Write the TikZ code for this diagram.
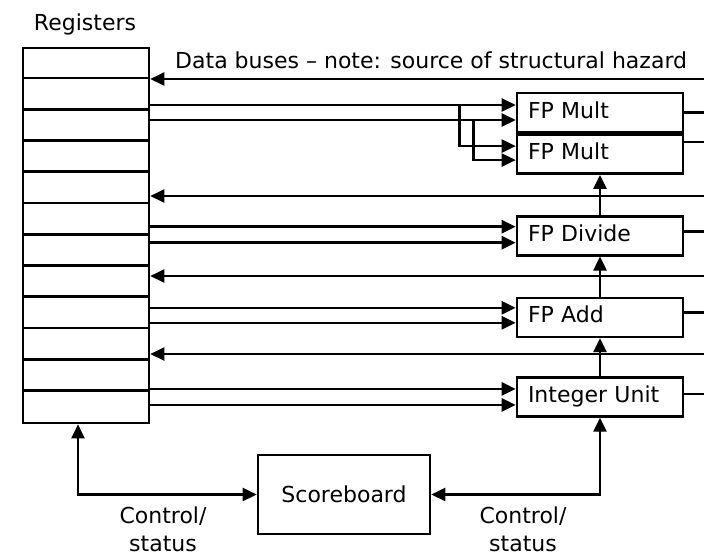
\documentclass[tikz,border=0pt]{standalone}
\usepackage{fontspec}
\setmainfont{DejaVu Sans}
\usetikzlibrary{arrows.meta,positioning}

\tikzset{
  unit/.style={draw,line width=2.6pt,text width=144pt,inner xsep=11pt,inner ysep=0pt,
    align=left,minimum height=39pt,text height=16pt,text depth=5pt},
  bus/.style={line width=2.5pt},
  lbl/.style={inner sep=0pt,align=center}
}

\begin{document}
\begin{tikzpicture}[x=1pt,y=-1pt,>={Triangle[length=14pt,width=13pt]},
  font=\fontsize{22}{28}\selectfont]
\useasboundingbox (0,0) rectangle (704,555);

% register file, 12 rows
\node[draw,line width=2.6pt,minimum width=126pt,minimum height=375pt,inner sep=0pt] (rf) at (86,235.5) {};
\foreach \i in {1,...,11}
  \draw[line width=2.6pt] ([yshift=-\i*31.25pt]rf.north west) -- ([yshift=-\i*31.25pt]rf.north east);
\node[lbl] (regs) at (85,24) {Registers};
\node[lbl,anchor=west] (buses) at (175,60) {Data buses – note: source of structural hazard};

% functional units
\node[unit] (mulA) at (600,112.5) {FP Mult};
\node[unit,below=0pt of mulA] (mulB) {FP Mult};
\node[unit,below=40pt of mulB] (div) {FP Divide};
\node[unit,below=40pt of div] (add) {FP Add};
\node[unit,below=38pt of add] (int) {Integer Unit};
\node[draw,line width=2.6pt,minimum width=172pt,minimum height=79pt] (sb) at (344,494.5) {Scoreboard};

% result buses back to the registers
\coordinate (wb1) at (704,79);
\coordinate (wb2) at (704,196);
\coordinate (wb3) at (704,276);
\coordinate (wb4) at (704,354);
\foreach \w in {wb1,wb2,wb3,wb4}
  \draw[bus,->] (\w) -- (\w -| rf.east);
\draw[bus] (mulA.east) -- (mulA.east -| wb1);
\draw[bus] ([yshift=12pt]mulB.east) -- ([yshift=12pt]mulB.east -| wb1);
\draw[bus] ([yshift=4pt]div.east) -- ([yshift=4pt]div.east -| wb1);
\draw[bus] ([yshift=5pt]add.east) -- ([yshift=5pt]add.east -| wb1);
\draw[bus] ([yshift=3pt]int.east) -- ([yshift=3pt]int.east -| wb1);

% operand buses
\coordinate (mA1) at ([yshift=7.5pt]mulA.west);
\coordinate (mA2) at ([yshift=-7.5pt]mulA.west);
\coordinate (mB1) at ([yshift=8pt]mulB.west);
\coordinate (mB2) at ([yshift=-6pt]mulB.west);
\coordinate (dv1) at ([yshift=9pt]div.west);
\coordinate (dv2) at ([yshift=-7pt]div.west);
\coordinate (ad1) at ([yshift=9.5pt]add.west);
\coordinate (ad2) at ([yshift=-5.5pt]add.west);
\coordinate (in1) at ([yshift=8pt]int.west);
\coordinate (in2) at ([yshift=-8pt]int.west);
\foreach \p in {mA1,mA2,dv1,dv2,ad1,ad2,in1,in2}
  \draw[bus,->] (\p -| rf.east) -- (\p);
\draw[bus,->] ([xshift=-56pt]mA1) |- (mB1);
\draw[bus,->] ([xshift=-42pt]mA2) |- (mB2);

% chaining between units
\draw[bus,->] (int.north) -- (add.south);
\draw[bus,->] (add.north) -- (div.south);
\draw[bus,->] (div.north) -- (mulB.south);

% control/status to the scoreboard
\coordinate (ctlL) at (78,494.5);
\coordinate (ctlR) at (int.south |- sb.east);
\draw[bus,<->] (rf.south -| ctlL) -- (ctlL) -- (sb.west);
\draw[bus,<->] (sb.east) -- (ctlR) -- (int.south);
\node[lbl] (ctlLtxt) at (163,529) {Control/\\status};
\node[lbl] (ctlRtxt) at (523,529) {Control/\\status};
\end{tikzpicture}
\end{document}
